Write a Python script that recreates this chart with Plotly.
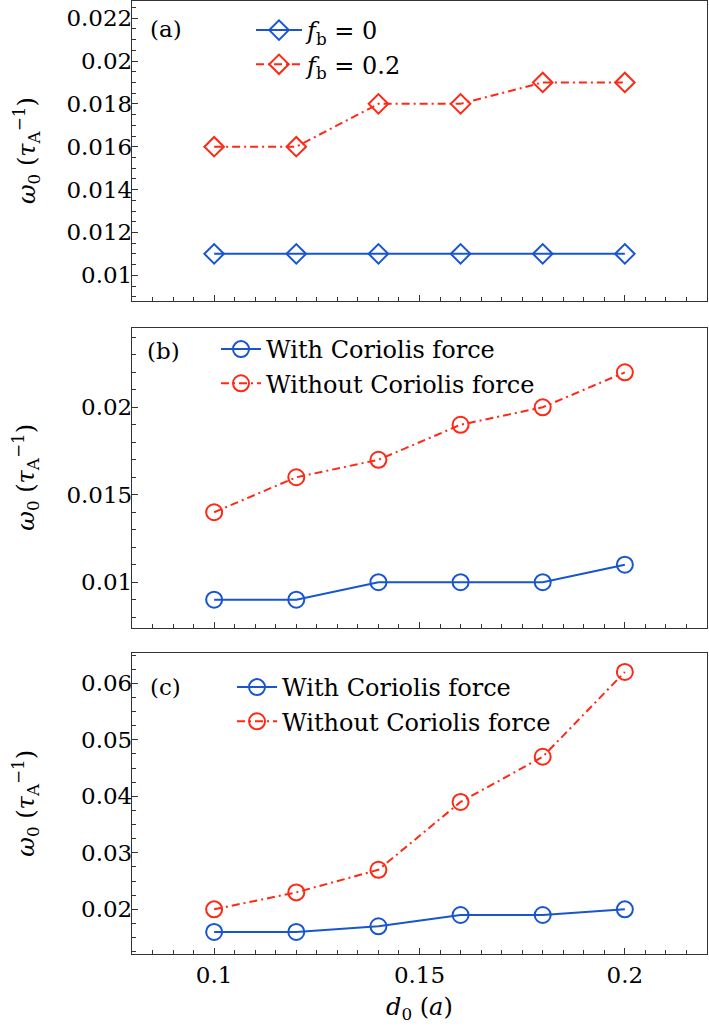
import plotly.graph_objects as go

# ---------------- data ----------------
d0 = [0.1, 0.12, 0.14, 0.16, 0.18, 0.2]

a_fb0 = [0.011, 0.011, 0.011, 0.011, 0.011, 0.011]
a_fb02 = [0.016, 0.016, 0.018, 0.018, 0.019, 0.019]

b_with = [0.009, 0.009, 0.010, 0.010, 0.010, 0.011]
b_without = [0.014, 0.016, 0.017, 0.019, 0.020, 0.022]

c_with = [0.016, 0.016, 0.017, 0.019, 0.019, 0.020]
c_without = [0.020, 0.023, 0.027, 0.039, 0.047, 0.062]

x_ticks = [0.1, 0.15, 0.2]
x_tick_labels = ["0.1", "0.15", "0.2"]
a_ticks = [0.01, 0.012, 0.014, 0.016, 0.018, 0.02, 0.022]
a_tick_labels = ["0.01", "0.012", "0.014", "0.016", "0.018", "0.02", "0.022"]
b_ticks = [0.01, 0.015, 0.02]
b_tick_labels = ["0.01", "0.015", "0.02"]
c_ticks = [0.02, 0.03, 0.04, 0.05, 0.06]
c_tick_labels = ["0.02", "0.03", "0.04", "0.05", "0.06"]

legend_a = ["<i>f</i><sub>b</sub> = 0", "<i>f</i><sub>b</sub> = 0.2"]
legend_bc = ["With Coriolis force", "Without Coriolis force"]

# ---------------- style ----------------
BLUE = "#1756d0"
RED = "#ff2814"
AX = "#333333"
FONT = "DejaVu Serif"
FS_TICK = 23
FS_LEG = 24
FS_TITLE = 24

W, H = 709, 1030
L, R, T, B = 132, 2, 1, 76
PW = W - L - R
PH = H - T - B


def py(pix):  # pixel y -> paper fraction
    return (H - B - pix) / PH


def px(pix):
    return (pix - L) / PW


fig = go.Figure()


def add(y, name, color, dash, symbol, size, xa, ya, legend):
    fig.add_trace(go.Scatter(
        x=d0, y=y, name=name, mode="lines+markers",
        line=dict(color=color, width=2, dash=dash),
        marker=dict(symbol=symbol, size=size, color=color,
                    line=dict(color=color, width=2)),
        xaxis=xa, yaxis=ya, legend=legend,
    ))


DASHDOT = "8px,4px,2px,4px"
add(a_fb0, legend_a[0], BLUE, "solid", "diamond-open", 15, "x", "y", "legend")
add(a_fb02, legend_a[1], RED, DASHDOT, "diamond-open", 15, "x", "y", "legend")
add(b_with, legend_bc[0], BLUE, "solid", "circle-open", 16, "x2", "y2", "legend2")
add(b_without, legend_bc[1], RED, DASHDOT, "circle-open", 16, "x2", "y2", "legend2")
add(c_with, legend_bc[0], BLUE, "solid", "circle-open", 16, "x3", "y3", "legend3")
add(c_without, legend_bc[1], RED, DASHDOT, "circle-open", 16, "x3", "y3", "legend3")

common_axis = dict(
    showline=True, linecolor=AX, linewidth=1.3, mirror=True,
    ticks="inside", ticklen=6, tickwidth=1.2, tickcolor=AX,
    showgrid=False, zeroline=False,
    tickfont=dict(family=FONT, size=FS_TICK, color="black"),
)


def xax(anchor, labels):
    return dict(common_axis, anchor=anchor, domain=[0, 1], range=[0.08, 0.22],
                tickmode="array", tickvals=x_ticks, ticktext=x_tick_labels,
                showticklabels=labels, ticklabelstandoff=0,
                minor=dict(ticks="inside", ticklen=3.5, tickwidth=1, tickcolor=AX,
                           tickmode="linear", tick0=0, dtick=0.005))


def yax(anchor, dom, rng, tv, tt, mdt):
    return dict(common_axis, anchor=anchor, domain=dom, range=rng,
                tickmode="array", tickvals=tv, ticktext=tt, ticklabelstandoff=-6,
                minor=dict(ticks="inside", ticklen=3.5, tickwidth=1, tickcolor=AX,
                           tickmode="linear", tick0=0, dtick=mdt))


dom_a = [py(301), py(1)]
dom_b = [py(627.7), py(327.7)]
dom_c = [py(954), py(653.3)]

leg_common = dict(font=dict(family=FONT, size=FS_LEG, color="black"),
                  bgcolor="rgba(0,0,0,0)", borderwidth=0,
                  xanchor="left", yanchor="top", itemwidth=40,
                  tracegroupgap=0)

fig.update_layout(
    width=W, height=H,
    margin=dict(l=L, r=R, t=T, b=B),
    paper_bgcolor="white", plot_bgcolor="white",
    font=dict(family=FONT, size=FS_TICK, color="black"),
    showlegend=True,
    xaxis=xax("y", False),
    xaxis2=xax("y2", False),
    xaxis3=xax("y3", True),
    yaxis=yax("x", dom_a, [0.0088, 0.0228], a_ticks, a_tick_labels, 0.0005),
    yaxis2=yax("x2", dom_b, [0.0074, 0.02455], b_ticks, b_tick_labels, 0.001),
    yaxis3=yax("x3", dom_c, [0.0121, 0.0653], c_ticks, c_tick_labels, 0.0025),
    legend=dict(leg_common, x=px(251), y=py(8), itemwidth=46),
    legend2=dict(leg_common, x=px(216), y=py(327)),
    legend3=dict(leg_common, x=px(232), y=py(665)),
)

ytitle = "<i>ω</i><sub>0</sub> (<i>τ</i><sub>A</sub><sup>−1</sup>)"
for yref in ["y domain", "y2 domain", "y3 domain"]:
    fig.add_annotation(text=ytitle, xref="paper", x=px(26), yref=yref, y=0.5,
                       textangle=-90, showarrow=False, xanchor="center", yanchor="middle",
                       font=dict(family=FONT, size=FS_TITLE, color="black"))

for lab, yref, xf, yf in [("(a)", "y domain", 0.028, 0.907),
                          ("(b)", "y2 domain", 0.0226, 0.922),
                          ("(c)", "y3 domain", 0.028, 0.888)]:
    fig.add_annotation(text=lab, xref="x domain", x=xf, yref=yref, y=yf,
                       showarrow=False, xanchor="left", yanchor="middle",
                       font=dict(family=FONT, size=FS_TICK, color="black"))

fig.add_annotation(text="<i>d</i><sub>0</sub> (<i>a</i>)", xref="paper", x=0.5,
                   yref="paper", y=py(1008), showarrow=False,
                   xanchor="center", yanchor="middle",
                   font=dict(family=FONT, size=FS_TITLE, color="black"))

fig.write_html("out.html", post_script="document.body.style.margin='0';",
               config={"displayModeBar": False})
